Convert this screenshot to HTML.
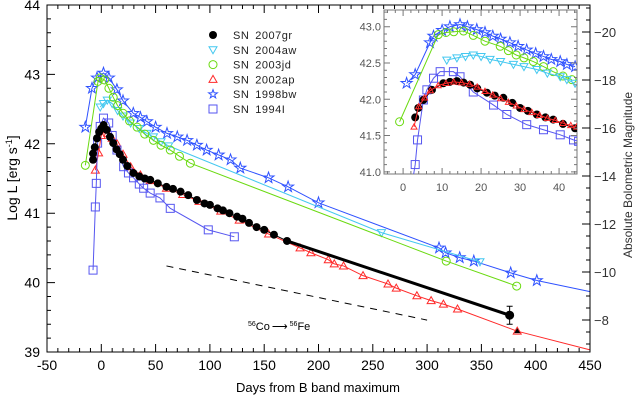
<!DOCTYPE html>
<html><head><meta charset="utf-8"><style>
body{margin:0;background:#fff}
svg{display:block;font-family:"Liberation Sans",sans-serif}
</style></head><body>
<svg id="chart" width="638" height="403" viewBox="0 0 638 403" xmlns="http://www.w3.org/2000/svg"></svg>
<script>
// ---- main panel data (days from B max, log L) ----
const sn2007grDays=[-7.6,-7.6,-6,-4,-2,0,2.1,5,8,11,14,17,20,24,29.5,35,40,45,52,60,66,73,80,88,95,100,107,112,118,125,130,136,143,150,159,171];
const sn2007grL=[41.77,41.86,41.95,42.08,42.17,42.22,42.27,42.2,42.1,42.01,41.92,41.85,41.77,41.68,41.58,41.53,41.5,41.48,41.43,41.38,41.35,41.31,41.26,41.19,41.14,41.12,41.07,41.04,41.0,40.95,40.92,40.86,40.8,40.76,40.69,40.6];
const sn2007grEndDay=[171,376];
const sn2007grEndL=[40.6,39.53];
const sn2002apDays=[-5.5,-2.5,0,3,6,10,14.4,20,27,36,45,60,75,90,110,127,154,183,193,209,214.5,223,241,264,271.6,290.6,303.7,315,328,383];
const sn2002apL=[41.62,41.87,42.12,42.2,42.15,42.08,42.0,41.85,41.67,41.55,41.47,41.36,41.27,41.17,41.03,40.9,40.7,40.5,40.43,40.33,40.27,40.24,40.1,39.98,39.92,39.81,39.74,39.69,39.62,39.3];
const sn2003jdDays=[-14.7,-3,-1,3,7,11,15,20,26,33,40,48,55,63.5,72,82,317.6,382.5];
const sn2003jdL=[41.69,42.9,42.95,42.92,42.8,42.67,42.55,42.44,42.33,42.24,42.14,42.05,41.98,41.91,41.82,41.72,40.31,39.95];
const sn2004awDays=[-1,2,5.5,10,15,20,27,35,42,48,55,62,258,348.7];
const sn2004awL=[42.53,42.58,42.63,42.58,42.48,42.4,42.3,42.22,42.15,42.1,42.03,41.97,40.72,40.3];
const sn1998bwDays=[-14.7,-8.6,-4,2,7,14.4,20,29.5,36,42,50,60.5,70,79,88,97,108,119,128,154,172,200,311,317,330,343,377,401];
const sn1998bwL=[42.24,42.8,42.95,43.02,42.95,42.78,42.62,42.44,42.38,42.32,42.24,42.15,42.1,42.05,41.98,41.91,41.84,41.77,41.65,41.51,41.38,41.15,40.5,40.43,40.36,40.31,40.14,40.03];
const sn1994iDays=[-7.6,-5.5,-4.6,-3.4,-1,2,6.8,10,14.4,20.6,25,29.7,35,39,45,54,63.5,98.5,122.5];
const sn1994iL=[40.18,41.09,41.43,42.01,42.25,42.37,42.3,42.12,41.91,41.67,41.58,41.51,41.42,41.36,41.29,41.22,41.07,40.76,40.66];
const decayDays=[60,300];
const decayL=[40.24,39.46];
const xTicks=[-50,0,50,100,150,200,250,300,350,400,450];
const yTicks=[39,40,41,42,43,44];
const magTicks=[-20,-18,-16,-14,-12,-10,-8];
// ---- inset data (days, log L) ----
const inStarD=[0.9,3.1,6.9,7.8,10,12,14.6,16.5,18.9,21,23,25,27.4,29.5,31.7,34,36,38,40.3,42,44.1];
const inStarL=[42.22,42.34,42.78,42.87,42.95,43.0,43.03,43.0,42.96,42.92,42.87,42.83,42.78,42.73,42.68,42.63,42.59,42.55,42.52,42.48,42.45];
const inGreenD=[-0.9,9,11,13,15.5,18,21,24.9,27,29,31,33.4,36,38.5,41,43.3];
const inGreenL=[41.69,42.89,42.92,42.93,42.94,42.88,42.8,42.73,42.67,42.61,42.57,42.52,42.45,42.38,42.32,42.27];
const inCyanD=[11.2,13.8,16,18,20,22.3,25,28.3,31,34.3,37,40.3,42,44.1];
const inCyanL=[42.54,42.57,42.59,42.61,42.59,42.55,42.52,42.48,42.45,42.41,42.36,42.31,42.27,42.22];
const inBlackD=[3.1,3.9,5.2,7.4,10.3,12,13.8,15.5,17.2,19,21.5,23.5,25.7,28,30,32,34.3,36.5,38.5,41,44.1];
const inBlackL=[41.75,41.88,41.99,42.13,42.22,42.24,42.25,42.23,42.2,42.15,42.09,42.05,42.02,41.95,41.88,41.84,41.79,41.75,41.72,41.66,41.6];
const inRedD=[2.8,4,5.5,7,9,11,13,15,17,19,21,23,25,27,29,31,33,35,37,39,41,43,44.5];
const inRedL=[41.62,41.9,42.02,42.12,42.19,42.22,42.24,42.23,42.21,42.17,42.11,42.06,42.01,41.96,41.91,41.86,41.82,41.78,41.74,41.71,41.67,41.64,41.62];
const inSqD=[2.5,3.1,3.7,5.2,6.1,7.8,9.5,12.9,14.6,18,23.2,26.6,31.7,36,40.3,43.7,45];
const inSqL=[40.9,41.1,41.44,41.99,42.13,42.29,42.38,42.38,42.31,42.1,41.92,41.79,41.65,41.58,41.51,41.44,41.42];
const inXTicks=[0,10,20,30,40];
const inYTicks=[41.0,41.5,42.0,42.5,43.0];

const NS="http://www.w3.org/2000/svg";
const svg=document.getElementById('chart');
function el(t,a,p){const e=document.createElementNS(NS,t);for(const k in a)e.setAttribute(k,a[k]);(p||svg).appendChild(e);return e;}
const X0=47,X1=590,Y0=5,Y1=352;
const xs=d=>X0+(d+50)/500*(X1-X0);
const ys=l=>Y1-(l-39)/5*(Y1-Y0);
const magY=m=>32+(m+20)/12*(320-32);
const IX0=384,IX1=577,IY0=10,IY1=174;
const ixs=d=>IX0+(d+4.9)/49.5*(IX1-IX0);
const iys=l=>IY1-(l-40.97)/2.26*(IY1-IY0);

const CLR={k:'#000',c:'#44c8f0',g:'#6ada10',r:'#ff2a2a',s:'#2f52ff',q:'#5656f0'};

function marker(g,type,x,y,col,s){
  let e;
  if(type==='fc'){e=el('circle',{cx:x,cy:y,r:s,fill:col},g);}
  else if(type==='oc'){e=el('circle',{cx:x,cy:y,r:s,fill:'none',stroke:col,'stroke-width':1},g);}
  else if(type==='tu'){e=el('polygon',{points:`${x},${y-s} ${x-s},${y+s*0.75} ${x+s},${y+s*0.75}`,fill:'none',stroke:col},g);}
  else if(type==='td'){e=el('polygon',{points:`${x},${y+s} ${x-s},${y-s*0.75} ${x+s},${y-s*0.75}`,fill:'none',stroke:col},g);}
  else if(type==='sq'){e=el('rect',{x:x-s,y:y-s,width:2*s,height:2*s,fill:'none',stroke:col},g);}
  else if(type==='st'){let p=[];for(let i=0;i<10;i++){const r=i%2?s*0.45:s*1.15,a=-Math.PI/2+i*Math.PI/5;p.push((x+r*Math.cos(a)).toFixed(1)+','+(y+r*Math.sin(a)).toFixed(1));}
    e=el('polygon',{points:p.join(' '),fill:'none',stroke:col},g);}
  
  
}
function series(name,D,L,type,col,fx,fy,s,lw,clip){
  const g=el('g',clip?{'clip-path':clip}:{});
  
  
  const pl=el('polyline',{points:D.map((d,i)=>fx(d)+','+fy(L[i])).join(' '),fill:'none',stroke:col,'stroke-width':lw||1},g);
  
  
  D.forEach((d,i)=>marker(g,type,fx(d),fy(L[i]),col,s));
  return g;
}
const defs=el('defs',{});
const cp=el('clipPath',{id:'mainclip'},defs);el('rect',{x:X0,y:Y0,width:X1-X0,height:Y1-Y0},cp);
const cp2=el('clipPath',{id:'inclip'},defs);el('rect',{x:IX0,y:IY0,width:IX1-IX0,height:IY1-IY0},cp2);

const mc='url(#mainclip)';
series('sn1998bw-series',sn1998bwDays,sn1998bwL,'st',CLR.s,xs,ys,5,1,mc);
const ext1=el('line',{x1:xs(401),y1:ys(40.03),x2:xs(450),y2:ys(39.87),stroke:CLR.s});

series('sn2004aw-series',sn2004awDays,sn2004awL,'td',CLR.c,xs,ys,4,1,mc);
series('sn2003jd-series',sn2003jdDays,sn2003jdL,'oc',CLR.g,xs,ys,4,1,mc);
series('sn2002ap-series',sn2002apDays,sn2002apL,'tu',CLR.r,xs,ys,4,1,mc);
const ext2=el('line',{x1:xs(383),y1:ys(39.3),x2:xs(450),y2:ys(39.03),stroke:CLR.r});

series('sn1994i-series',sn1994iDays,sn1994iL,'sq',CLR.q,xs,ys,4,1,mc);
series('sn2007gr-series',sn2007grDays,sn2007grL,'fc',CLR.k,xs,ys,4,1,mc);
const tail=el('polyline',{points:sn2007grEndDay.map((d,i)=>xs(d)+','+ys(sn2007grEndL[i])).join(' '),stroke:'#000','stroke-width':3,fill:'none'});

const lastPt=el('circle',{cx:xs(sn2007grEndDay[1]),cy:ys(sn2007grEndL[1]),r:4.5,fill:'#000'});

const eb=el('path',{d:`M${xs(376)-3},${ys(39.66)}h6M${xs(376)},${ys(39.66)}V${ys(39.4)}M${xs(376)-3},${ys(39.4)}h6`,stroke:'#000',fill:'none'});

const tri=el('polygon',{points:`${xs(383)},${ys(39.3)-3} ${xs(383)-3},${ys(39.3)+2} ${xs(383)+3},${ys(39.3)+2}`,fill:'#000'});

const dash=el('line',{x1:xs(decayDays[0]),y1:ys(decayL[0]),x2:xs(decayDays[1]),y2:ys(decayL[1]),stroke:'#000','stroke-width':1,'stroke-dasharray':'7,6'});

const decT=el('text',{x:248,y:330,'font-size':11});

decT.innerHTML='<tspan font-size="7" dy="-4">56</tspan><tspan dy="4">Co</tspan><tspan dx="2">⟶</tspan><tspan font-size="7" dy="-4" dx="2">56</tspan><tspan dy="4">Fe</tspan>';

const fr=el('rect',{x:X0,y:Y0,width:X1-X0,height:Y1-Y0,fill:'none',stroke:'#000'});

let tk='';
for(let d=-50;d<=450;d+=10){const x=xs(d),L=d%50===0?8:4;tk+=`M${x},${Y1}v${-L}M${x},${Y0}v${L}`;}
for(let l=39;l<=44.001;l+=0.2){const y=ys(l),L=Math.abs(l-Math.round(l))<0.01?8:4;tk+=`M${X0},${y}h${L}`;}
for(let m=-21;m<=-6.5;m+=0.5){const y=magY(m);if(y<Y0||y>Y1)continue;const L=m%2===0?8:4;tk+=`M${X1},${y}h${-L}`;}
const tkp=el('path',{d:tk,stroke:'#000',fill:'none'});
xTicks.forEach(d=>{const t=el('text',{x:xs(d),y:370,'font-size':14,'text-anchor':'middle'});t.textContent=d;});
yTicks.forEach(l=>{const t=el('text',{x:40,y:ys(l)+5,'font-size':14,'text-anchor':'end'});t.textContent=l;});
magTicks.forEach(m=>{const t=el('text',{x:594,y:magY(m)+5,'font-size':13,fill:'#333'});t.textContent='\u2212'+(-m);});
const xt=el('text',{x:318,y:392,'font-size':13,'text-anchor':'middle'});xt.textContent='Days from B band maximum';
const yt=el('text',{transform:'translate(17,178) rotate(-90)','font-size':14,'text-anchor':'middle'});yt.innerHTML='Log L [erg s<tspan font-size="9" dy="-5">-1</tspan><tspan dy="5">]</tspan>';
const rt=el('text',{transform:'translate(632,175) rotate(-90)','font-size':12,'text-anchor':'middle',fill:'#333'});rt.textContent='Absolute Bolometric Magnitude';

const legNames=['SN 2007gr','SN 2004aw','SN 2003jd','SN 2002ap','SN 1998bw','SN 1994I'];
const legTypes=['fc','td','oc','tu','st','sq'];
const legCols=[CLR.k,CLR.c,CLR.g,CLR.r,CLR.s,CLR.q];
legNames.forEach((n,i)=>{const g=el('g',{});
  const y=35+i*14.8;marker(g,legTypes[i],213,y,legCols[i],4);
  const t=el('text',{x:233,y:y+4,'font-size':11,fill:'#222','letter-spacing':'0.5'},g);t.textContent=n.replace(' ','\u2002');});

const ib=el('rect',{x:IX0,y:IY0,width:IX1-IX0,height:IY1-IY0,fill:'#fff',stroke:'#777'});
const ic='url(#inclip)';
series('inset-sn1998bw',inStarD,inStarL,'st',CLR.s,ixs,iys,5,1,ic);
series('inset-sn2003jd',inGreenD,inGreenL,'oc',CLR.g,ixs,iys,4,1,ic);
series('inset-sn2004aw',inCyanD,inCyanL,'td',CLR.c,ixs,iys,4,1,ic);
series('inset-sn1994i',inSqD,inSqL,'sq',CLR.q,ixs,iys,4,1,ic);
series('inset-sn2007gr',inBlackD,inBlackL,'fc',CLR.k,ixs,iys,4,1,ic);
series('inset-sn2002ap',inRedD,inRedL,'tu',CLR.r,ixs,iys,3,1,ic);
let itk='';
for(let d=-4;d<=44;d+=2){const x=ixs(d),L=d%10===0?6:3;itk+=`M${x},${IY1}v${-L}M${x},${IY0}v${L}`;}
for(let l=41;l<=43.21;l+=0.1){const y=iys(l),L=Math.abs(l*2-Math.round(l*2))<0.01?6:3;itk+=`M${IX0},${y}h${L}M${IX1},${y}h${-L}`;}
const itp=el('path',{d:itk,stroke:'#777',fill:'none'});
inXTicks.forEach(d=>{const t=el('text',{x:ixs(d),y:191,'font-size':11,'text-anchor':'middle',fill:'#555'});t.textContent=d;});
inYTicks.forEach(l=>{const t=el('text',{x:381,y:iys(l)+4,'font-size':11,'text-anchor':'end',fill:'#555'});t.textContent=l.toFixed(1);});
</script>
</body></html>
